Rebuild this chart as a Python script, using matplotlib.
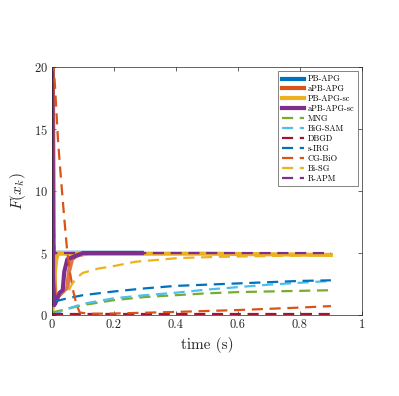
import matplotlib
matplotlib.use("Agg")
import matplotlib.pyplot as plt

plt.rcParams['font.family'] = ['cmr10', 'DejaVu Serif']
plt.rcParams['mathtext.fontset'] = 'cm'
plt.rcParams['axes.formatter.use_mathtext'] = True

# solid methods
pb_apg_t = [0, 0.003, 0.006, 0.29]
pb_apg_y = [25, 20, 5.05, 5.05]

apb_apg_t = [0, 0.003, 0.006, 0.012, 0.02, 0.04, 0.05, 0.055, 0.065, 0.08, 0.12, 0.29]
apb_apg_y = [25, 20, 5, 1.0, 1.5, 2.0, 2.2, 3.5, 4.5, 4.8, 5.0, 5.0]

pb_apg_sc_t = [0, 0.006, 0.01, 0.014, 0.02, 0.5, 0.9]
pb_apg_sc_y = [0, 1.5, 3.5, 4.5, 4.95, 4.95, 4.85]

apb_apg_sc_t = [0, 0.002, 0.004, 0.008, 0.015, 0.025, 0.035, 0.04, 0.05, 0.07, 0.1, 0.29]
apb_apg_sc_y = [25, 15, 3, 0.8, 1.2, 1.8, 2.0, 3.5, 4.5, 4.7, 5.0, 5.0]

# dashed methods
mng_t = [0, 0.05, 0.1, 0.2, 0.3, 0.4, 0.5, 0.6, 0.7, 0.8, 0.9]
mng_y = [0.2, 0.5, 0.8, 1.2, 1.45, 1.6, 1.75, 1.85, 1.9, 1.95, 2.0]

bigsam_t = [0, 0.05, 0.1, 0.2, 0.3, 0.4, 0.5, 0.6, 0.7, 0.8, 0.9]
bigsam_y = [0, 0.5, 0.9, 1.35, 1.6, 1.8, 2.05, 2.25, 2.45, 2.6, 2.75]

dbgd_t = [0, 0.9]
dbgd_y = [0.08, 0.08]

sirg_t = [0.01, 0.05, 0.1, 0.2, 0.3, 0.4, 0.5, 0.6, 0.7, 0.8, 0.9]
sirg_y = [1.1, 1.35, 1.6, 1.9, 2.15, 2.35, 2.45, 2.55, 2.65, 2.75, 2.8]

cgbio_t = [0, 0.01, 0.02, 0.03, 0.04, 0.05, 0.06, 0.07, 0.08, 0.09, 0.12, 0.2, 0.4, 0.6, 0.8, 0.9]
cgbio_y = [22, 18.5, 14, 10.8, 7.8, 5.0, 3.2, 1.8, 0.8, 0.2, 0.1, 0.12, 0.25, 0.4, 0.6, 0.72]

bisg_t = [0.055, 0.065, 0.08, 0.1, 0.15, 0.2, 0.27, 0.34, 0.41, 0.48, 0.55, 0.65, 0.76, 0.9]
bisg_y = [2.0, 2.5, 3.0, 3.4, 3.75, 3.95, 4.3, 4.45, 4.6, 4.65, 4.7, 4.74, 4.78, 4.84]

rapm_t = [0, 0.003, 0.008, 0.02, 0.9]
rapm_y = [20, 12, 5.0, 5.0, 5.0]

blue = '#0072BD'
orange = '#D95319'
yellow = '#EDB120'
purple = '#7E2F8E'
green = '#77AC30'
lblue = '#4DBEEE'
dred = '#A2142F'

fig = plt.figure(figsize=(3.99, 3.96), dpi=100)
ax = fig.add_axes([0.130, 0.2045, 0.777, 0.626])

solid_lw = 3.0
dash_lw = 1.6
dash = (5, 3)

ax.plot(pb_apg_t, pb_apg_y, color=blue, lw=solid_lw, alpha=0.35, label='PB-APG')
ax.plot(apb_apg_t, apb_apg_y, color=orange, lw=solid_lw, alpha=0.8, label='aPB-APG')
ax.plot(pb_apg_sc_t, pb_apg_sc_y, color=yellow, lw=solid_lw, label='PB-APG-sc')
ax.plot(apb_apg_sc_t, apb_apg_sc_y, color=purple, lw=solid_lw, label='aPB-APG-sc')
ax.plot(mng_t, mng_y, color=green, lw=dash_lw, dashes=dash, label='MNG')
ax.plot(bigsam_t, bigsam_y, color=lblue, lw=dash_lw, dashes=dash, label='BiG-SAM')
ax.plot(dbgd_t, dbgd_y, color=dred, lw=dash_lw, dashes=dash, label='DBGD')
ax.plot(sirg_t, sirg_y, color=blue, lw=dash_lw, dashes=dash, label='s-IRG')
ax.plot(cgbio_t, cgbio_y, color=orange, lw=dash_lw, dashes=dash, label='CG-BiO')
ax.plot(bisg_t, bisg_y, color=yellow, lw=dash_lw, dashes=dash, label='Bi-SG')
ax.plot(rapm_t, rapm_y, color=purple, lw=dash_lw, dashes=dash, label='R-APM')

ax.set_xlim(0, 1)
ax.set_ylim(0, 20)
ax.set_xticks([0, 0.2, 0.4, 0.6, 0.8, 1])
ax.set_xticklabels(['0', '0.2', '0.4', '0.6', '0.8', '1'])
ax.set_yticks([0, 5, 10, 15, 20])
ax.tick_params(direction='in', top=True, right=True, labelsize=9, length=3,
               width=0.5, color='#262626', labelcolor='#262626', pad=3)
for s in ax.spines.values():
    s.set_linewidth(0.5)
    s.set_color('#262626')

ax.set_xlabel('time (s)', fontsize=11, color='#262626')
ax.set_ylabel(r'$F(x_k)$', fontsize=11, color='#262626')

leg = ax.legend(loc='upper right', fontsize=6, handlelength=2.7, frameon=True,
                fancybox=False, edgecolor='#262626', borderpad=0.45,
                labelspacing=0.18, handletextpad=0.4, borderaxespad=0.5)
leg.get_frame().set_linewidth(0.5)
for h in leg.legend_handles:
    h.set_alpha(1)

fig.savefig('out.png', dpi=100)
